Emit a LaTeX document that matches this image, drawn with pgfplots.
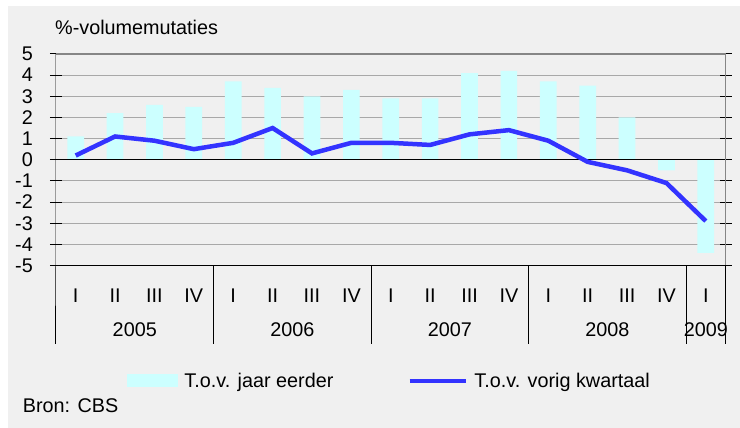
\documentclass[border=0pt]{standalone}
\usepackage{pgfplots}
\pgfplotsset{compat=1.18}
\usepackage{fontspec}
\setmainfont{Liberation Sans}
\definecolor{bg}{RGB}{240,240,240}
\definecolor{barc}{RGB}{204,255,255}
\definecolor{linec}{RGB}{51,51,255}
\definecolor{gridc}{RGB}{168,168,168}
\newcommand{\fs}{\fontsize{19.8}{22}\selectfont}
\begin{document}
\begin{tikzpicture}[x=1pt,y=1pt]
\useasboundingbox (0,0) rectangle (740,428);
\fill[bg] (8,0) rectangle (740,422);
\node[anchor=base west, inner sep=0pt, font=\fs] at (55,393) {\%-volumemutaties};
\node[anchor=base west, inner sep=0pt, font=\fs] at (22.7,15.7) {Bron: CBS};
\begin{axis}[
  at={(56pt,162.5pt)}, anchor=south west,
  width=669.5pt, height=211.5pt, scale only axis,
  xmin=-0.5, xmax=16.5, ymin=-5, ymax=5,
  ytick={-5,-4,-3,-2,-1,0,1,2,3,4,5},
  yticklabels={-5,-4,-3,-2,-1,0,1,2,3,4,5},
  xtick={0,1,2,3,4,5,6,7,8,9,10,11,12,13,14,15,16},
  xticklabels={I,II,III,IV,I,II,III,IV,I,II,III,IV,I,II,III,IV,I},
  x tick style={draw=none},
  y tick style={black, line width=1pt},
  major tick length=12pt, tick align=center,
  ymajorgrids, grid style={gridc, line width=1pt},
  axis line style={draw=none},
  ticklabel style={font=\fs},
  yticklabel style={anchor=east, inner sep=0pt, xshift=-17pt},
  xticklabel style={anchor=base, inner sep=0pt, yshift=-31.2pt},
  clip=false,
  legend columns=2,
  legend style={at={(0.106,-0.545)}, anchor=west, draw=none, fill=none,
    inner sep=0pt, font=\fs,
    /tikz/every odd column/.append style={column sep=4.6pt},
    /tikz/every even column/.append style={column sep=72pt}},
  legend cell align=left,
]
\addplot[ybar, bar width=16.7pt, fill=barc, draw=none, bar shift=0pt,
  legend image code/.code={\fill[barc] (0pt,-6.5pt) rectangle (50.7pt,6.5pt);}]
  coordinates {(0,1.1) (1,2.2) (2,2.6) (3,2.5) (4,3.7) (5,3.4) (6,3.0) (7,3.3)
    (8,2.9) (9,2.9) (10,4.1) (11,4.2) (12,3.7) (13,3.5) (14,2.0) (15,-0.5) (16,-4.4)};
\addlegendentry{T.o.v. jaar eerder}
\draw[black, line width=1pt] (axis cs:-0.5,0) -- (axis cs:16.5,0);
\draw[gridc!80!black, line width=1.2pt] (rel axis cs:0,1) -- (rel axis cs:1,1) -- (rel axis cs:1,0);
\draw[black, line width=1pt] (rel axis cs:0,0) -- (rel axis cs:1,0);
\draw[black, line width=1pt] (rel axis cs:0,1) -- (rel axis cs:0,0) -- ++(0pt,-78.5pt);
\draw[black, line width=1pt] (rel axis cs:1,0) -- ++(0pt,-78.5pt);
\draw[black, line width=1pt] (axis cs:3.5,-5) -- ++(0pt,-78.5pt);
\draw[black, line width=1pt] (axis cs:7.5,-5) -- ++(0pt,-78.5pt);
\draw[black, line width=1pt] (axis cs:11.5,-5) -- ++(0pt,-78.5pt);
\draw[black, line width=1pt] (axis cs:15.5,-5) -- ++(0pt,-78.5pt);
\addplot[linec, line width=4.5pt, mark=none,
  legend image code/.code={\draw[linec, line width=4.5pt] (0pt,0pt) -- (56pt,0pt);}]
  coordinates {(0,0.2) (1,1.1) (2,0.9) (3,0.5) (4,0.8) (5,1.5) (6,0.3) (7,0.8)
    (8,0.8) (9,0.7) (10,1.2) (11,1.4) (12,0.9) (13,-0.1) (14,-0.5) (15,-1.1) (16,-2.9)};
\addlegendentry{T.o.v. vorig kwartaal}
\node[anchor=base, inner sep=0pt, font=\fs] at (axis cs:1.5,-5) [yshift=-71.2pt] {2005};
\node[anchor=base, inner sep=0pt, font=\fs] at (axis cs:5.5,-5) [yshift=-71.2pt] {2006};
\node[anchor=base, inner sep=0pt, font=\fs] at (axis cs:9.5,-5) [yshift=-71.2pt] {2007};
\node[anchor=base, inner sep=0pt, font=\fs] at (axis cs:13.5,-5) [yshift=-71.2pt] {2008};
\node[anchor=base, inner sep=0pt, font=\fs] at (axis cs:16,-5) [yshift=-71.2pt] {2009};
\end{axis}
\end{tikzpicture}
\end{document}
